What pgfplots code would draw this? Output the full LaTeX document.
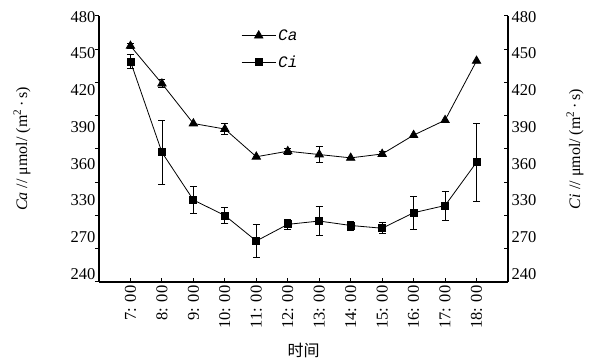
\documentclass[border=0pt]{standalone}
\usepackage{fontspec}
\setmainfont{Liberation Serif}
\setmonofont{Liberation Mono}
\newfontfamily\cjk{Noto Sans CJK SC}
\usepackage{pgfplots}
\usepackage{pgfplotstable}
\pgfplotsset{compat=1.18}

\pgfplotstableread{
x ca cae ci cie
0 453 2.5 439 6
1 419 3.5 357 29
2 383 0 314 12
3 378 5 300 7
4 353 0 277 15
5 358 2.5 292 4.5
6 355 7.5 295 13
7 352 0 291 4
8 355.5 2 288.5 5
9 372.5 0 302.5 15
10 386 0 309 13
11 439.5 0 348 35
}\data

\pgfplotstableread{
x ca cae
0 453 2.5
1 419 3.5
3 378 5
5 358 2.5
6 355 7.5
8 355.5 2
}\caerr

\pgfplotsset{
  base/.style={
    width=409pt, height=266pt, scale only axis,
    xmin=-1, xmax=12, ymin=240, ymax=480,
    axis line style={-, line width=1.2pt, black},
    tick style={line width=1pt, black},
    major tick length=4pt,
    /pgf/number format/assume math mode=true,
    tick label style={font=\fontsize{16.5}{19}\selectfont},
    label style={font=\fontsize{16}{19}\selectfont},
  },
  ylabs/.style={
    ytick={240,270,...,480},
    yticklabels={},
    extra y ticks={479.4,446.2,413.0,379.8,346.6,313.5,280.3,247.2},
    extra y tick labels={480,450,420,390,360,330,270,240},
    extra y tick style={major tick length=0pt, tick style={draw=none}},
  },
}

\begin{document}
\begin{tikzpicture}
\begin{axis}[base,
  axis x line*=bottom, axis y line=none,
  tick align=inside,
  xtick={0,...,11},
  xticklabels={7: 00,8: 00,9: 00,10: 00,11: 00,12: 00,13: 00,14: 00,15: 00,16: 00,17: 00,18: 00},
  x tick label style={rotate=90, anchor=east},
  xlabel={\cjk 时间},
  xlabel style={at={(axis description cs:0.5,0)}, anchor=center, yshift=-68pt},
  legend style={draw=none, fill=none, at={(0.34,0.965)}, anchor=north west,
    font=\fontsize{16}{19}\selectfont\ttfamily\itshape, row sep=10pt},
  legend cell align=left,
  legend image code/.code={\draw[mark repeat=2,mark phase=2,#1] plot coordinates {(0cm,0cm)(0.6cm,0cm)(1.2cm,0cm)};},
]
\addplot[forget plot, draw=none, mark=none,
  error bars/.cd, y dir=both, y explicit,
  error bar style={draw=black, solid, line width=0.8pt},
  error mark options={draw=black, rotate=90, mark size=3.5pt, line width=0.8pt}]
  table[x=x, y=ca, y error=cae]{\caerr};
\addplot[black, line width=0.8pt, mark=triangle*, mark size=4.8pt, mark options={solid}]
  table[x=x, y=ca]{\data};
\addlegendentry{Ca}
\addplot[black, line width=0.8pt, mark=square*, mark size=3.5pt, mark options={solid},
  error bars/.cd, y dir=both, y explicit,
  error bar style={line width=0.8pt},
  error mark options={rotate=90, mark size=3.5pt, line width=0.8pt}]
  table[x=x, y=ci, y error=cie]{\data};
\addlegendentry{Ci}
\end{axis}
\begin{axis}[base, ylabs,
  axis x line=none, axis y line*=left,
  tick align=outside,
  ylabel={\textit{Ca} // μmol/ (m\textsuperscript{2}\,·\,s)},
  ylabel style={at={(axis description cs:-0.188,0.5)}, anchor=center},
]
\end{axis}
\begin{axis}[base, ylabs,
  axis x line=none, axis y line*=right,
  tick align=inside,
  ylabel={\textit{Ci} // μmol/ (m\textsuperscript{2}\,·\,s)},
  ylabel style={at={(axis description cs:1.164,0.5)}, anchor=center},
]
\end{axis}
\pgfresetboundingbox
\useasboundingbox (-99pt,-81pt) rectangle (493pt,282pt);
\end{tikzpicture}
\end{document}
